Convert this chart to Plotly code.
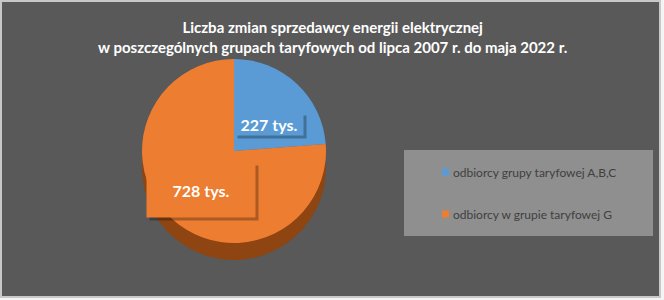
import plotly.graph_objects as go

W, H = 664, 300

categories = ["odbiorcy grupy taryfowej A,B,C", "odbiorcy w grupie taryfowej G"]
values = [227, 728]
value_labels = [f"{v} tys." for v in values]
colors = ["#5B9BD5", "#ED7D31"]
side_colors = ["#3f6f9c", "#8e4512"]
title_lines = ["Liczba zmian sprzedawcy energii elektrycznej",
               "w poszczególnych grupach taryfowych od lipca 2007 r. do maja 2022 r."]

FONT = "Lato"

def px(x):
    return x / W

def py(y):
    return 1 - y / H

cx, cy, r = 234, 151, 92
depth = 17

fig = go.Figure()
# side (depth) of the pie
fig.add_trace(go.Pie(
    labels=categories, values=values, sort=False, direction="clockwise", rotation=0,
    marker=dict(colors=side_colors, line=dict(width=0)),
    textinfo="none", hoverinfo="skip", showlegend=False,
    domain=dict(x=[px(cx - r), px(cx + r)], y=[py(cy + depth + r), py(cy + depth - r)]),
))
# top face
fig.add_trace(go.Pie(
    labels=categories, values=values, sort=False, direction="clockwise", rotation=0,
    marker=dict(colors=colors, line=dict(width=0)),
    textinfo="none", showlegend=False,
    domain=dict(x=[px(cx - r), px(cx + r)], y=[py(cy + r), py(cy - r)]),
))

shapes = [
    # chart background with light border
    dict(type="rect", xref="paper", yref="paper", x0=px(1), x1=px(660), y0=py(297), y1=py(1),
         fillcolor="#595959", line=dict(color="#c8c8c8", width=2), layer="below"),
    # legend box
    dict(type="rect", xref="paper", yref="paper", x0=px(404), x1=px(653), y0=py(236), y1=py(150),
         fillcolor="#8f8f8f", line=dict(width=0), layer="below"),
]
annotations = []

# legend entries
leg_y = [172, 214]
for i, (lab, col) in enumerate(zip(categories, colors)):
    shapes.append(dict(type="rect", xref="paper", yref="paper",
                       x0=px(442), x1=px(449), y0=py(leg_y[i] + 3.5), y1=py(leg_y[i] - 3.5),
                       fillcolor=col, line=dict(width=0), layer="above"))
    annotations.append(dict(text=lab, xref="paper", yref="paper", x=px(451), y=py(leg_y[i]),
                            xanchor="left", yanchor="middle", showarrow=False,
                            font=dict(family=FONT, size=12, color="#404040")))

# data label boxes
boxes = [
    dict(cx=269, cy=124, w=68, h=22),
    dict(cx=201, cy=190, w=108, h=54),
]
for i, b in enumerate(boxes):
    annotations.append(dict(text=" ", xref="paper", yref="paper",
                            x=px(b["cx"] + 3), y=py(b["cy"] + 3), xanchor="center", yanchor="middle",
                            width=b["w"], height=b["h"], borderpad=0, showarrow=False,
                            bgcolor="rgba(0,0,0,0.28)"))
    annotations.append(dict(text=f"<b>{value_labels[i]}</b>", xref="paper", yref="paper",
                            x=px(b["cx"]), y=py(b["cy"]), xanchor="center", yanchor="middle",
                            width=b["w"], height=b["h"], borderpad=0, showarrow=False,
                            bgcolor=colors[i],
                            font=dict(family=FONT, size=16, color="white")))

fig.update_layout(
    width=W, height=H,
    margin=dict(l=0, r=0, t=0, b=0),
    paper_bgcolor="#f4f4f4",
    title=dict(text="<b>" + "<br>".join(title_lines) + "</b>",
               x=0.501, xanchor="center", y=py(33), yanchor="middle", yref="paper",
               font=dict(family=FONT, size=15, color="white")),
    shapes=shapes,
    annotations=annotations,
)

fig.write_html("out.html")
